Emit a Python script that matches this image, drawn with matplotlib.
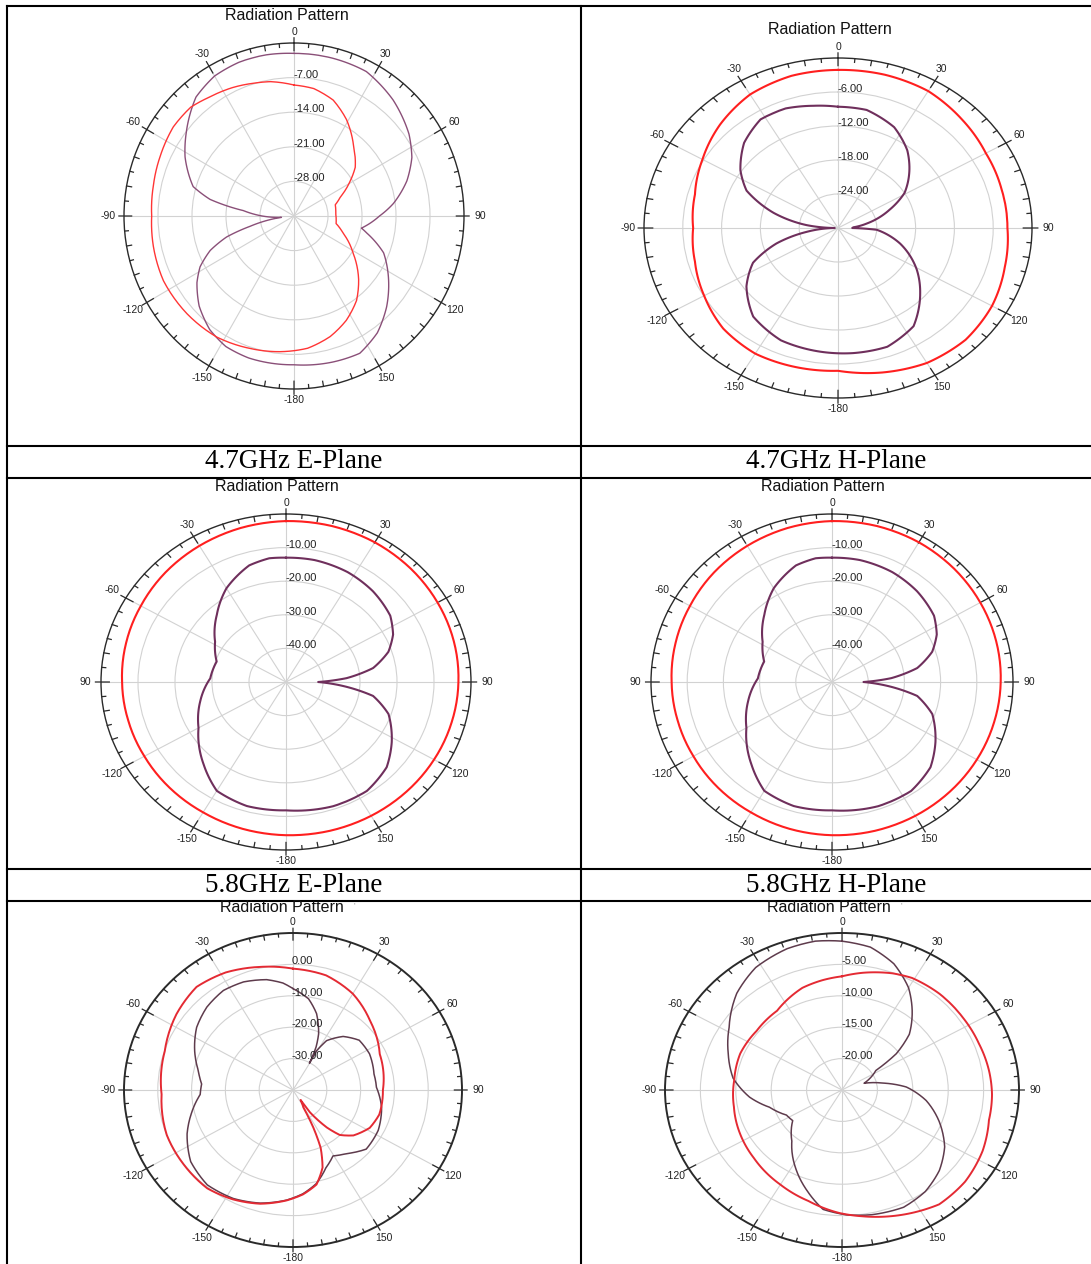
import numpy as np
import matplotlib
matplotlib.use("Agg")
import matplotlib.pyplot as plt
from matplotlib.lines import Line2D

W, H = 1091, 1264
fig = plt.figure(figsize=(W / 100, H / 100), dpi=100)
fig.patch.set_facecolor("white")

# ---------------- measured patterns (angle in degrees, gain in dB) ----------------
# 4.7 GHz E-plane
e47_a_ang = [0, 14, 27, 41, 55, 64, 73, 83, 90, 100, 103, 112, 126, 134, 144, 154, 165, 180,
             198, 208, 217, 227, 236, 242, 248, 253, 257, 264, 276, 281, 286, 298, 307, 320,
             330, 340, 350]
e47_a_db = [-2.1, -2.1, -2.2, -3.9, -6.1, -8.0, -10.7, -14.4, -17.4, -20.9, -19.6, -15.1, -10.9,
            -8.5, -5.8, -4.1, -4.4, -4.9, -4.8, -5.1, -6.2, -8.3, -10.9, -13.1, -16.4, -20.5,
            -25.7, -32.4, -24.5, -17.4, -13.4, -9.6, -7.2, -3.6, -2.3, -1.9, -1.9]
e47_b_ang = [0, 9, 19, 29, 41, 52, 59, 68, 75, 87, 100, 109, 122, 134, 143, 153, 163, 174, 186,
             199, 213, 228, 244, 258, 270, 282, 294, 306, 316, 324, 334, 343, 350]
e47_b_db = [-8.5, -8.9, -10.2, -12.7, -16.3, -19.0, -21.6, -24.7, -26.2, -26.4, -26.2, -24.3,
            -20.6, -16.5, -13.6, -11.3, -9.5, -8.1, -7.4, -6.7, -5.8, -5.4, -5.1, -5.4, -5.7,
            -5.4, -4.9, -4.3, -4.4, -5.3, -6.1, -6.9, -7.4]

# 4.7 GHz H-plane
h47_a_ang = [0, 12, 26, 38, 47, 59, 68, 80, 87, 90, 93, 106, 121, 132, 146, 160, 174, 187, 204,
             220, 234, 245, 254, 262, 270, 276, 285, 295, 304, 316, 328, 339, 350]
h47_a_db = [-8.6, -8.7, -10.2, -12.6, -14.9, -18.0, -21.4, -25.5, -27.6, -27.8, -24.0, -20.0,
            -15.8, -12.9, -9.1, -7.7, -7.8, -8.0, -8.3, -9.6, -12.5, -15.5, -20.1, -25.1, -29.5,
            -25.1, -19.7, -14.4, -11.8, -9.1, -7.4, -7.4, -8.1]
h47_b_ang = [0, 15, 30, 45, 60, 75, 90, 105, 120, 135, 150, 165, 180, 195, 210, 225, 240, 255,
             270, 285, 300, 315, 330, 345]
h47_b_db = [-2.1, -2.0, -2.1, -2.9, -3.6, -3.8, -3.8, -3.3, -2.5, -2.1, -2.5, -3.6, -4.8, -4.6,
            -4.4, -4.9, -6.1, -7.1, -7.6, -7.1, -5.8, -4.2, -2.8, -2.2]

# 5.8 GHz E-plane
e58_a_ang = [0, 12, 27, 41, 55, 64, 72, 80, 86, 90, 95, 100, 109, 122, 133, 146, 161, 180, 196,
             210, 222, 240, 256, 273, 288, 302, 317, 330, 344, 353]
e58_a_db = [-13.0, -12.9, -13.3, -14.2, -15.6, -17.8, -20.9, -26.1, -33.6, -41.3, -33.6, -26.1,
            -20.7, -16.3, -12.8, -10.9, -10.9, -11.8, -11.6, -12.6, -16.8, -22.7, -26.1, -29.5,
            -30.3, -27.4, -22.6, -17.8, -13.9, -12.9]
e58_b_ang = [0, 15, 30, 45, 60, 75, 90, 105, 120, 135, 150, 165, 180, 195, 210, 225, 240, 255,
             270, 285, 300, 315, 330, 345]
e58_b_db = [-2.1, -1.95, -2.0, -2.3, -2.7, -3.05, -3.4, -3.65, -3.8, -3.9, -4.0, -4.15, -4.4,
            -4.75, -5.2, -5.5, -5.8, -5.85, -5.7, -5.25, -4.7, -3.9, -3.2, -2.55]

# 5.8 GHz H-plane
h58_a_ang = [0, 12, 27, 41, 55, 64, 72, 80, 86, 90, 95, 100, 109, 122, 133, 146, 161, 180, 196,
             210, 222, 240, 256, 273, 288, 302, 317, 330, 344, 353]
h58_a_db = [-13.0, -12.9, -13.3, -14.2, -15.6, -17.8, -20.9, -26.1, -33.6, -41.3, -33.6, -26.1,
            -20.7, -16.3, -12.8, -10.9, -10.9, -11.8, -11.6, -12.6, -16.8, -22.7, -26.1, -29.5,
            -30.3, -27.4, -22.6, -17.8, -13.9, -12.9]
h58_b_ang = [0, 15, 30, 45, 60, 75, 90, 105, 120, 135, 150, 165, 180, 195, 210, 225, 240, 255,
             270, 285, 300, 315, 330, 345]
h58_b_db = [-2.1, -1.95, -2.0, -2.3, -2.7, -3.05, -3.4, -3.65, -3.8, -3.9, -4.0, -4.15, -4.4,
            -4.75, -5.2, -5.5, -5.8, -5.85, -5.7, -5.25, -4.7, -3.9, -3.2, -2.55]

# third row, left
r3l_a_ang = [0, 9, 16, 23, 26.5, 29.7, 29.2, 32.3, 41, 51, 63, 78, 88, 102, 117, 131, 142,
             150.6, 158.5, 167, 175, 183, 195, 207, 220, 233, 246, 256, 267, 274, 282.5, 293,
             305, 316, 327, 337, 347.5, 355]
r3l_a_db = [-7.7, -10.6, -14.7, -20.6, -24.7, -30.2, -25.6, -21.4, -17.4, -14.8, -14.6, -15.5,
            -15.3, -13.2, -11.7, -11.3, -14.3, -15.9, -13.4, -9.4, -6.8, -4.9, -2.7, -1.2, -0.55,
            -2.1, -5.7, -9.0, -12.5, -12.9, -11.3, -8.4, -5.2, -3.3, -2.2, -2.6, -4.0, -5.8]
r3l_b_ang = [0, 15, 30, 46, 66, 90, 107, 118, 129, 136, 140, 144.8, 144.9, 151, 153.3, 156,
             160.5, 167, 175, 183, 195, 207, 219, 234, 249, 268, 288, 305, 319, 332, 346]
r3l_b_db = [-1.35, -2.2, -4.6, -8.3, -11.9, -13.4, -13.3, -14.3, -17.0, -20.1, -24.4, -31.3,
            -36.1, -33.7, -26.6, -19.9, -13.8, -9.1, -6.6, -4.8, -2.5, -0.9, 0.3, 0.1, 0.0, -1.1,
            -0.1, 2.1, 3.5, 2.4, 0.4]

# third row, right
r3r_a_ang = [0, 10, 20, 30, 38, 47, 53, 57, 71, 79, 87, 98, 110, 122, 133, 144, 155, 168, 178,
             188, 197, 208, 221, 235, 243, 255, 265, 277, 290, 302, 316, 328, 341, 351]
r3r_a_db = [-1.3, -1.9, -3.6, -6.2, -8.9, -12.0, -15.4, -19.3, -21.7, -19.2, -15.9, -13.0,
            -10.4, -7.9, -6.2, -5.0, -4.4, -4.7, -5.1, -5.8, -8.2, -11.0, -14.2, -16.5, -16.2,
            -14.4, -11.9, -9.5, -7.9, -6.2, -3.6, -2.0, -1.2, -1.0]
r3r_b_ang = [0, 9, 21, 29, 42, 56, 69, 82, 92, 103, 116, 130, 143, 157, 172, 181, 195, 210, 229,
             244, 260, 276, 292, 308, 324, 341, 351]
r3r_b_db = [-6.9, -6.1, -5.1, -4.6, -4.4, -4.4, -4.3, -4.0, -3.8, -3.7, -2.9, -2.3, -2.2, -3.4,
            -4.7, -5.4, -6.7, -7.6, -8.5, -9.0, -9.5, -9.7, -9.5, -9.7, -9.4, -7.8, -7.3]

captions = ["4.7GHz E-Plane", "4.7GHz H-Plane", "5.8GHz E-Plane", "5.8GHz H-Plane"]
caption_xy = [(294, 462), (836, 462), (294, 885), (836, 885)]
angle_ticks = [0, 30, 60, 90, 120, 150, 180, 210, 240, 270, 300, 330]
angle_labels = ["0", "30", "60", "90", "120", "150", "-180", "-150", "-120", "-90", "-60", "-30"]
# the middle row prints its 270-degree label without the sign
angle_labels_mid = ["0", "30", "60", "90", "120", "150", "-180", "-150", "-120", "90", "-60", "-30"]

PURPLE = "#6f2f5c"
RED = "#ff1f1f"

panels = [
    dict(c=(294, 216), r=(170, 173), lim=(-35, 0), rings=[-28, -21, -14, -7], title=(287, 15),
         curves=[(e47_a_ang, e47_a_db, "#8a4f78", 1.0), (e47_b_ang, e47_b_db, "#ff3535", 1.0)],
         spine=1.0, labels=angle_labels),
    dict(c=(838, 228), r=(194, 170), lim=(-30, 0), rings=[-24, -18, -12, -6], title=(830, 30),
         curves=[(h47_a_ang, h47_a_db, PURPLE, 1.5), (h47_b_ang, h47_b_db, RED, 1.5)],
         spine=1.0, labels=angle_labels),
    dict(c=(286, 682), r=(185, 168), lim=(-50, 0), rings=[-40, -30, -20, -10], title=(277, 486),
         curves=[(e58_a_ang, e58_a_db, PURPLE, 1.5), (e58_b_ang, e58_b_db, RED, 1.5)],
         spine=1.0, labels=angle_labels_mid),
    dict(c=(832, 682), r=(181, 168), lim=(-50, 0), rings=[-40, -30, -20, -10], title=(823, 486),
         curves=[(h58_a_ang, h58_a_db, PURPLE, 1.5), (h58_b_ang, h58_b_db, RED, 1.5)],
         spine=1.0, labels=angle_labels_mid),
    dict(c=(293, 1090), r=(169, 157), lim=(-40, 10), rings=[-30, -20, -10, 0], title=(282, 908),
         curves=[(r3l_a_ang, r3l_a_db, "#5e3b4c", 1.1), (r3l_b_ang, r3l_b_db, "#e42a33", 1.4)],
         mark=True, spine=1.4, labels=angle_labels),
    dict(c=(842, 1090), r=(177, 157), lim=(-25, 0), rings=[-20, -15, -10, -5], title=(829, 908),
         curves=[(r3r_a_ang, r3r_a_db, "#5e3b4c", 1.1), (r3r_b_ang, r3r_b_db, "#e42a33", 1.4)],
         mark=True, spine=1.4, labels=angle_labels),
]

for p in panels:
    cx, cy = p["c"]
    rx, ry = p["r"]
    ax = fig.add_axes([(cx - rx) / W, 1 - (cy + ry) / H, 2 * rx / W, 2 * ry / H],
                      projection="polar")
    ax.set_aspect("auto")
    ax.set_theta_zero_location("N")
    ax.set_theta_direction(-1)
    lo, hi = p["lim"]
    span = hi - lo
    for ang, db, col, lw in p["curves"]:
        # close the loop by continuing one full turn past the first sample
        th = np.deg2rad(np.r_[ang, ang[0] + 360])
        rr = np.r_[db, db[0]]
        (ln,) = ax.plot(th, rr, color=col, lw=lw, solid_joinstyle="round", zorder=3)
        # draw each segment as a polar arc rather than a straight chord
        ln.get_path()._interpolation_steps = 12
    ax.set_ylim(lo, hi)
    ax.set_yticks(p["rings"])
    ax.set_yticklabels([])
    ax.set_xticks(np.deg2rad(angle_ticks))
    ax.set_xticklabels([])
    ax.grid(True, color="#d2d2d2", lw=0.8)
    ax.tick_params(axis="both", length=0)
    ax.spines["polar"].set_color("#2a2a2a")
    ax.spines["polar"].set_linewidth(p["spine"])
    ax.set_facecolor("none")

    # tick marks on the outer ring: every 5 degrees inward, every 30 degrees across
    tth, trr = [], []
    for t in range(0, 360, 5):
        a = np.deg2rad(t)
        if t % 30 == 0:
            r0, r1 = hi - 0.045 * span, hi + 0.03 * span
        elif t % 10 == 0:
            r0, r1 = hi - 0.03 * span, hi
        else:
            r0, r1 = hi - 0.022 * span, hi
        tth += [a, a, np.nan]
        trr += [r0, r1, np.nan]
    ax.plot(tth, trr, color="#2a2a2a", lw=0.9, clip_on=False, zorder=2)

    for t, lab in zip(angle_ticks, p["labels"]):
        s = abs(np.sin(np.deg2rad(t)))
        d = 11 + 5 * s
        ax.annotate(lab, (np.deg2rad(t), hi),
                    xytext=(d * np.sin(np.deg2rad(t)), d * np.cos(np.deg2rad(t))),
                    textcoords="offset pixels", ha="center", va="center",
                    fontsize=7.5, color="#222222", annotation_clip=False,
                    family="Liberation Sans")
    for rv in p["rings"]:
        ax.annotate(f"{rv:.2f}", (0, rv), xytext=(-1, 3), textcoords="offset pixels",
                    ha="left", va="center", fontsize=8, color="#222222",
                    annotation_clip=False, family="Liberation Sans", zorder=4)

    tx, ty = p["title"]
    fig.text(tx / W, 1 - ty / H, "Radiation Pattern", ha="center", va="center",
             fontsize=11.5, color="#111111", family="Liberation Sans")
    if p.get("mark"):
        fig.text((tx + 72) / W, 1 - (ty - 2) / H, "'", ha="center", va="center",
                 fontsize=6, color="#888888", family="Liberation Sans")

for text, (x, y) in zip(captions, caption_xy):
    fig.text(x / W, 1 - y / H, text, ha="center", va="center", fontsize=19.5,
             family="Liberation Serif", color="black")

# table rules
def hline(y, x0=7, x1=W):
    fig.add_artist(Line2D([x0 / W, x1 / W], [1 - y / H, 1 - y / H], color="black", lw=1.5))

def vline(x, y0=6, y1=H):
    fig.add_artist(Line2D([x / W, x / W], [1 - y0 / H, 1 - y1 / H], color="black", lw=1.5))

for y in [6, 446, 478, 869, 901]:
    hline(y)
vline(7)
vline(581)

fig.savefig("out.png", dpi=100, facecolor="white")
